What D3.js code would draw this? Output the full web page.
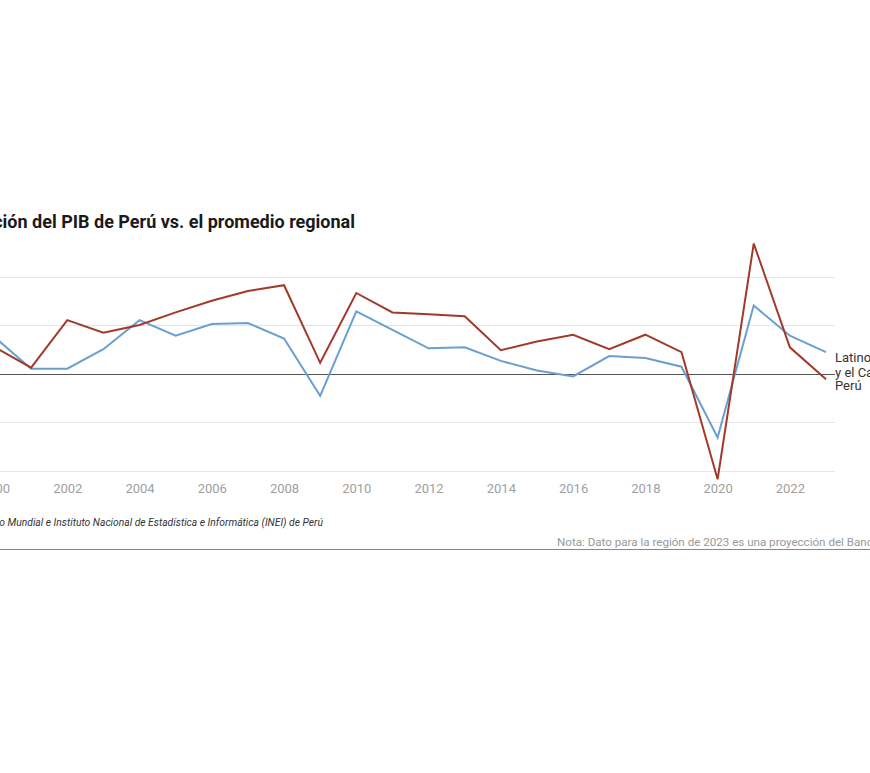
<!DOCTYPE html>
<html>
<head>
<meta charset="utf-8">
<script src="https://cdn.jsdelivr.net/npm/d3@7"></script>
<style>
  body { margin: 0; background: #fff; }
  svg { display: block; overflow: hidden; }
  text { font-family: Roboto, "Liberation Sans", sans-serif; }
</style>
</head>
<body>
<div id="chart"></div>
<script>
// crecimiento anual del PIB (%)
var years = d3.range(2000, 2024)
var peru = [2.7, 0.6, 5.5, 4.2, 5.0, 6.3, 7.5, 8.5, 9.1, 1.1, 8.3, 6.3, 6.1, 5.9, 2.4, 3.3, 4.0, 2.5, 4.0, 2.2, -10.9, 13.4, 2.7, -0.6]
var region = [3.7, 0.5, 0.5, 2.5, 5.5, 3.9, 5.1, 5.2, 3.6, -2.3, 6.4, 4.5, 2.6, 2.7, 1.3, 0.3, -0.3, 1.8, 1.6, 0.7, -6.6, 7.0, 3.9, 2.2]
var yTicks = [-10, -5, 0, 5, 10]
var xTicks = [2000, 2002, 2004, 2006, 2008, 2010, 2012, 2014, 2016, 2018, 2020, 2022]

var width = 870
var height = 773

var svg = d3.select('#chart')
    .append('svg')
    .attr('width', width)
    .attr('height', height)

var x = d3.scaleLinear()
    .domain([2000, 2023])
    .range([-5, 826])

var y = d3.scaleLinear()
    .domain([-10, 10])
    .range([470.5, 276.5])

// title (cut off at the left edge)
svg.append('text')
    .attr('x', 355)
    .attr('y', 228)
    .attr('text-anchor', 'end')
    .attr('font-size', 18)
    .attr('font-weight', 700)
    .attr('fill', '#1a1a1a')
    .text('Variación del PIB de Perú vs. el promedio regional')

// grid
svg.append('g')
    .selectAll('line')
    .data(yTicks)
    .enter()
    .append('line')
    .attr('x1', -60)
    .attr('x2', 835)
    .attr('y1', (d) => Math.round(y(d)) + 0.5)
    .attr('y2', (d) => Math.round(y(d)) + 0.5)
    .attr('stroke', (d) => d === 0 ? '#555' : '#e6e6e6')
    .attr('stroke-width', 1)

// x axis
var xAxis = d3.axisBottom(x)
    .tickValues(xTicks)
    .tickFormat(d3.format('d'))
    .tickSize(0)
    .tickPadding(0)

var gx = svg.append('g')
    .attr('transform', 'translate(0,' + 484 + ')')
    .call(xAxis)

gx.select('.domain').remove()
gx.selectAll('text')
    .attr('font-family', 'Roboto, sans-serif')
    .attr('font-size', 13)
    .attr('fill', '#a0a0a0')
    .attr('dy', '0.71em')

// lines
var line = d3.line()
    .x((d, i) => x(years[i]))
    .y((d) => y(d))

svg.append('path')
    .datum(region)
    .attr('d', line)
    .attr('fill', 'none')
    .attr('stroke', '#6a9fd2')
    .attr('stroke-width', 2)

svg.append('path')
    .datum(peru)
    .attr('d', line)
    .attr('fill', 'none')
    .attr('stroke', '#a23a2b')
    .attr('stroke-width', 2)

// end labels
var lbl = svg.append('g')
    .attr('font-size', 13)
    .attr('fill', '#333')

lbl.append('text').attr('x', 835).attr('y', 362).text('Latinoamérica')
lbl.append('text').attr('x', 835).attr('y', 377).text('y el Caribe')
lbl.append('text').attr('x', 835).attr('y', 390).text('Perú')

// source
svg.append('text')
    .attr('x', 323)
    .attr('y', 526)
    .attr('text-anchor', 'end')
    .attr('font-size', 10.3)
    .attr('font-style', 'italic')
    .attr('fill', '#333')
    .text('Fuente: Banco Mundial e Instituto Nacional de Estadística e Informática (INEI) de Perú')

svg.append('text')
    .attr('x', 557)
    .attr('y', 546)
    .attr('font-size', 11.6)
    .attr('fill', '#999')
    .text('Nota: Dato para la región de 2023 es una proyección del Banco Mundial')

svg.append('line')
    .attr('x1', 0)
    .attr('x2', width)
    .attr('y1', 549.5)
    .attr('y2', 549.5)
    .attr('stroke', '#888')
    .attr('stroke-width', 1)
</script>
</body>
</html>
